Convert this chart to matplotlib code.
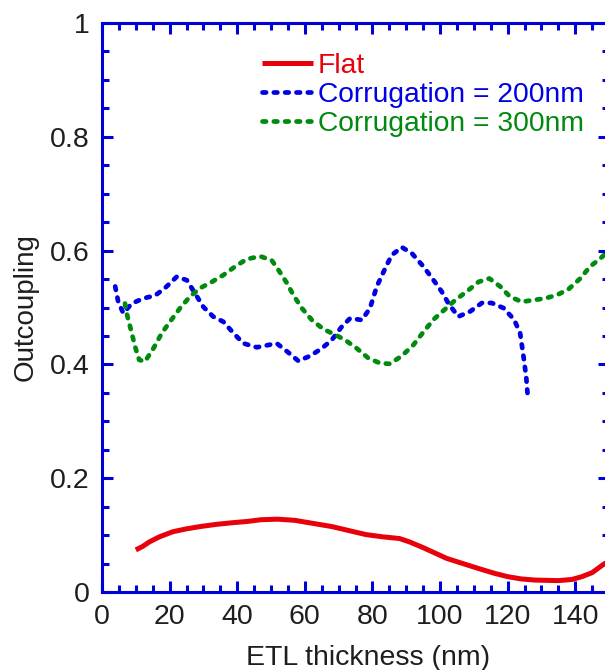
import matplotlib
matplotlib.use("Agg")
import matplotlib.pyplot as plt
from matplotlib.ticker import MultipleLocator

plt.rcParams['font.family'] = ['Liberation Sans', 'DejaVu Sans']

# Flat
flat_x = [10, 12, 14, 17, 21, 25, 29, 34, 39, 43, 47, 52, 57, 62, 68, 73, 78, 83, 88, 91, 95, 102,
          111, 116, 120, 124, 128, 135, 139, 142, 145, 148, 150]
flat_y = [0.074, 0.080, 0.088, 0.097, 0.106, 0.111, 0.115, 0.119, 0.122, 0.124, 0.127, 0.128, 0.126,
          0.121, 0.115, 0.108, 0.101, 0.097, 0.094, 0.088, 0.078, 0.059, 0.042, 0.033, 0.027, 0.023,
          0.021, 0.020, 0.022, 0.027, 0.034, 0.047, 0.055]

# Corrugation = 200nm
c200_x = [3.9, 4.8, 6.3, 8.8, 12.2, 15.7, 18.6, 22.1, 25.1, 27.5, 30.0, 32.9, 35.9, 38.9, 41.8, 45.8,
          51.7, 55.1, 58.1, 61.6, 65.0, 68.0, 70.9, 73.4, 76.9, 79.3, 81.3, 83.8, 85.7, 88.7, 91.7,
          95.1, 98.1, 100.5, 102.5, 105.4, 108.9, 112.4, 115.3, 118.8, 121.9, 123.7, 124.7, 125.5, 125.9]
c200_y = [0.537, 0.510, 0.490, 0.507, 0.516, 0.521, 0.534, 0.554, 0.548, 0.525, 0.501, 0.484, 0.475,
          0.455, 0.437, 0.430, 0.437, 0.421, 0.406, 0.415, 0.428, 0.443, 0.466, 0.481, 0.478, 0.499,
          0.537, 0.569, 0.592, 0.606, 0.595, 0.572, 0.548, 0.528, 0.507, 0.484, 0.493, 0.508, 0.508,
          0.499, 0.479, 0.455, 0.414, 0.378, 0.349]

# Corrugation = 300nm
c300_x = [6.8, 7.3, 8.8, 9.8, 11.0, 12.7, 15.2, 17.7, 20.1, 23.1, 26.0, 29.0, 32.5, 35.9, 39.4, 42.8,
          46.8, 50.2, 52.2, 54.7, 56.6, 59.1, 62.1, 65.5, 69.0, 71.9, 75.4, 78.8, 82.3, 85.2, 88.7,
          92.1, 95.1, 98.1, 101.5, 104.5, 107.9, 111.4, 114.6, 117.8, 120.7, 124.2, 127.6, 131.1,
          134.6, 138.0, 141.5, 144.4, 147.4, 150]
c300_y = [0.507, 0.490, 0.455, 0.431, 0.408, 0.405, 0.428, 0.455, 0.475, 0.499, 0.519, 0.534, 0.545,
          0.557, 0.572, 0.585, 0.590, 0.583, 0.566, 0.543, 0.522, 0.499, 0.478, 0.462, 0.452, 0.443,
          0.428, 0.411, 0.402, 0.401, 0.415, 0.434, 0.457, 0.479, 0.497, 0.513, 0.528, 0.545, 0.551,
          0.537, 0.519, 0.510, 0.513, 0.516, 0.522, 0.532, 0.551, 0.572, 0.586, 0.600]

red = '#e8000b'
blue = '#0000e6'
green = '#008a0e'
spine = '#0000d8'
txt = '#1e1e1e'

fig = plt.figure(figsize=(6.05, 6.7), dpi=100)
ax = fig.add_axes([102 / 605, 1 - 592 / 670, (609 - 102) / 605, (592 - 23) / 670])

dash = (0, (0.75, 1.65))
ax.plot(flat_x, flat_y, color=red, lw=3.6, solid_capstyle='butt', solid_joinstyle='round', label='Flat')
ax.plot(c200_x, c200_y, color=blue, lw=3.4, ls=dash, dash_capstyle='round', label='Corrugation = 200nm')
ax.plot(c300_x, c300_y, color=green, lw=3.4, ls=dash, dash_capstyle='round', label='Corrugation = 300nm')

ax.set_xlim(0, 150)
ax.set_ylim(0, 1)
ax.xaxis.set_major_locator(MultipleLocator(20))
ax.xaxis.set_minor_locator(MultipleLocator(5))
ax.yaxis.set_major_locator(MultipleLocator(0.2))
ax.yaxis.set_minor_locator(MultipleLocator(0.05))
ax.yaxis.set_major_formatter(plt.FuncFormatter(lambda v, p: f"{v:g}"))

for s in ax.spines.values():
    s.set_color(spine)
    s.set_linewidth(2.2)
ax.tick_params(which='both', direction='in', top=True, right=True, color=spine,
               labelsize=20.5, labelcolor=txt, pad=9)
ax.tick_params(which='major', length=8, width=2.2)
ax.tick_params(which='minor', length=5, width=2.2)

ax.set_xlabel('ETL thickness (nm)', fontsize=20.5, color=txt)
ax.set_ylabel('Outcoupling', fontsize=20, color=txt, labelpad=8)
ax.xaxis.set_label_coords(0.525, -0.094)

leg = ax.legend(loc='upper left', bbox_to_anchor=(0.3045, 0.958), frameon=False, fontsize=20.3,
                handlelength=1.8, handletextpad=0.18, labelspacing=0.12, borderpad=0.2,
                borderaxespad=0)
for t, c in zip(leg.get_texts(), [red, blue, green]):
    t.set_color(c)

fig.savefig('out.png', dpi=100)
